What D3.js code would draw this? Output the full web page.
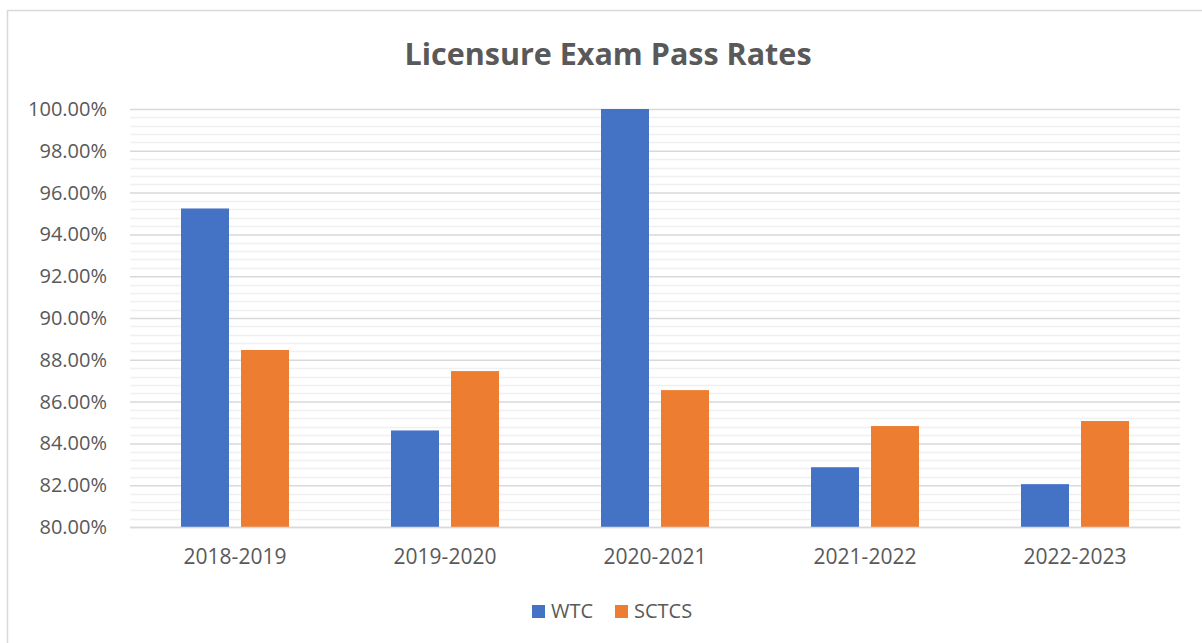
<!DOCTYPE html>
<html lang="en">
<head>
<meta charset="utf-8">
<script src="https://d3js.org/d3.v7.min.js"></script>
<style>
  body { margin: 0; background: #fff; }
  text { font-family: "Open Sans", "Liberation Sans", sans-serif; fill: #595959; }
</style>
</head>
<body>
<svg id="chart" width="1202" height="643"></svg>
<script>
  // data
  var categories = ['2018-2019', '2019-2020', '2020-2021', '2021-2022', '2022-2023'];
  var seriesNames = ['WTC', 'SCTCS'];
  var wtcValues = [95.24, 84.62, 100.0, 82.86, 82.05];
  var sctcsValues = [88.47, 87.46, 86.55, 84.83, 85.07];
  var yTicks = [80, 82, 84, 86, 88, 90, 92, 94, 96, 98, 100];
  var colors = ['#4472C4', '#ED7D31'];

  var rows = categories.map(function (c, i) {
    return { cat: c, WTC: wtcValues[i], SCTCS: sctcsValues[i] };
  });

  var svg = d3.select('#chart');
  var plotLeft = 130, plotRight = 1180, plotTop = 109, plotBottom = 527;

  // chart frame (only left and top edges are visible in the picture)
  svg.append('rect')
    .attr('x', 7.5).attr('y', 10.5)
    .attr('width', 1250).attr('height', 700)
    .attr('fill', 'none')
    .attr('stroke', '#d9d9d9')
    .attr('stroke-width', 1.5);

  var x = d3.scaleBand().domain(categories).range([plotLeft, plotRight]);
  var xInner = d3.scaleBand().domain(seriesNames).range([51, x.bandwidth() - 51]).paddingInner(0.2);
  var y = d3.scaleLinear().domain([80, 100]).range([plotBottom, plotTop]);

  // minor gridlines every 0.4%
  var minor = d3.range(0, 51).map(function (i) { return 80 + i * 0.4; })
    .filter(function (v) { return Math.abs(v / 2 - Math.round(v / 2)) > 0.01; });
  svg.append('g').selectAll('line')
    .data(minor)
    .enter().append('line')
    .attr('x1', plotLeft).attr('x2', plotRight)
    .attr('y1', function (d) { return Math.round(y(d)) + 0.5; })
    .attr('y2', function (d) { return Math.round(y(d)) + 0.5; })
    .attr('stroke', '#f0f0f0')
    .attr('stroke-width', 1.5);

  // major gridlines + y labels via axis
  var yAxis = svg.append('g')
    .attr('transform', 'translate(' + plotLeft + ',0)')
    .call(d3.axisLeft(y).tickValues(yTicks)
      .tickSize(-(plotRight - plotLeft))
      .tickPadding(23)
      .tickFormat(function (d) { return d.toFixed(2) + '%'; }));
  yAxis.select('.domain').remove();
  yAxis.selectAll('line').attr('stroke', '#d9d9d9').attr('stroke-width', 1.5);
  yAxis.selectAll('text').attr('font-size', 20).attr('fill', '#595959')
    .style('font-family', '"Open Sans", sans-serif');

  // bars
  var groups = svg.append('g').selectAll('g')
    .data(rows).enter().append('g')
    .attr('transform', function (d) { return 'translate(' + x(d.cat) + ',0)'; });

  groups.selectAll('rect')
    .data(function (d) { return seriesNames.map(function (s) { return { key: s, value: d[s] }; }); })
    .enter().append('rect')
    .attr('x', function (d) { return xInner(d.key); })
    .attr('width', xInner.bandwidth())
    .attr('y', function (d) { return y(d.value); })
    .attr('height', function (d) { return y(80) - y(d.value); })
    .attr('fill', function (d, i) { return colors[i]; });

  // x axis baseline and labels
  var xAxis = svg.append('g')
    .attr('transform', 'translate(0,' + plotBottom + ')')
    .call(d3.axisBottom(x).tickSize(0).tickPadding(22));
  xAxis.select('.domain').attr('stroke', '#d9d9d9').attr('stroke-width', 1.5);
  xAxis.selectAll('text').attr('font-size', 21).attr('fill', '#595959')
    .style('font-family', '"Open Sans", sans-serif');

  // title
  svg.append('text')
    .attr('x', 608).attr('y', 65)
    .attr('text-anchor', 'middle')
    .attr('font-size', 30.5)
    .attr('font-weight', 'bold')
    .text('Licensure Exam Pass Rates');

  // legend
  var legendX = [532, 615];
  var legend = svg.append('g').selectAll('g')
    .data(seriesNames).enter().append('g')
    .attr('transform', function (d, i) { return 'translate(' + legendX[i] + ',605)'; });
  legend.append('rect')
    .attr('width', 13).attr('height', 13)
    .attr('fill', function (d, i) { return colors[i]; });
  legend.append('text')
    .attr('x', 19).attr('y', 13)
    .attr('font-size', 20)
    .text(function (d) { return d; });
</script>
</body>
</html>
